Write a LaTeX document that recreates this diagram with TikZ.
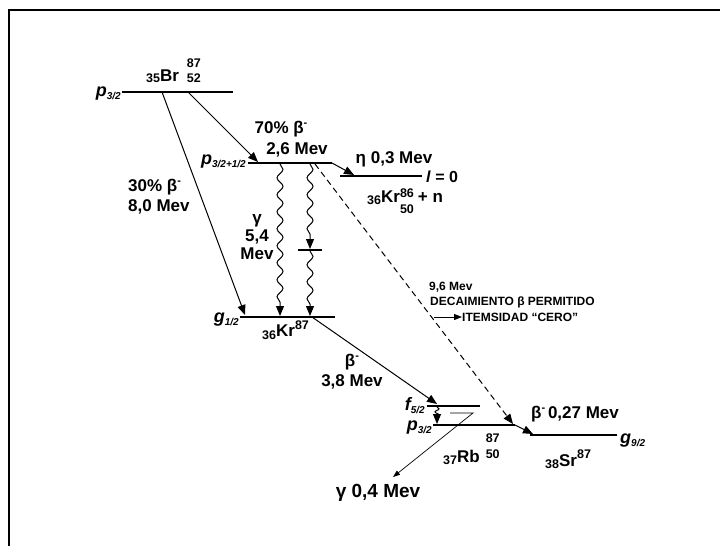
\documentclass[tikz,border=0pt]{standalone}
\usepackage{fontspec}
\setmainfont{Liberation Sans}
\usetikzlibrary{arrows.meta, positioning, decorations.pathmorphing}

\newcommand{\sm}{\fontsize{12.5}{12.5}\selectfont}
\newcommand{\up}[2]{\raisebox{#1}{\sm #2}}
\newcommand{\orb}[2]{\textit{#1}\raisebox{-3pt}{\fontsize{10}{10}\selectfont\itshape #2}}
\newcommand{\bm}{β\raisebox{7pt}{\fontsize{11}{11}\selectfont -}}

\begin{document}
\begin{tikzpicture}[
    x=1pt, y=-1pt,
    every node/.style={font=\fontsize{17}{20}\selectfont\bfseries, inner sep=0pt},
    level/.style={line width=2.4pt},
    decay/.style={line width=1pt, -{Triangle[length=10pt, width=8pt]}},
    gam/.style={decay, decorate,
        decoration={snake, amplitude=3pt, segment length=17pt, post length=10pt}},
    orbit/.style={font=\fontsize{18}{20}\selectfont\bfseries\itshape, anchor=base east},
    small/.style={font=\fontsize{12}{15}\selectfont\bfseries, anchor=west},
]
\useasboundingbox (0,0) rectangle (720,546);

% ---- Frame ----
\draw[line width=2pt] (9,546) -- (9,10) -- (720,10);

% ---- Levels ----
\coordinate (brL) at (122,92);  \coordinate (brR) at (233,92);
\coordinate (exL) at (248,163); \coordinate (exR) at (332,163);
\coordinate (knL) at (340,176); \coordinate (knR) at (422,176);
\coordinate (imL) at (298,250); \coordinate (imR) at (322,250);
\coordinate (krL) at (240,317); \coordinate (krR) at (335,317);
\coordinate (fL)  at (427,406); \coordinate (fR)  at (480,406);
\coordinate (rbL) at (433,425); \coordinate (rbR) at (515,425);
\coordinate (srL) at (530,435); \coordinate (srR) at (617,435);

\draw[level] (brL) -- (brR);
\draw[level] (exL) -- (exR);
\draw[level] (knL) -- (knR);
\draw[level, line width=2pt] (imL) -- (imR);
\draw[level] (krL) -- (krR);
\draw[level] (fL) -- (fR);
\draw[level] (rbL) -- (rbR);
\draw[level] (srL) -- (srR);

% ---- Orbital labels ----
\node[orbit] (pbr) at (121,96)  {\orb{p}{3/2}};
\node[orbit] (pex) at (246,164) {\orb{p}{3/2+1/2}};
\node[orbit] (gkr) at (239,322) {\orb{g}{1/2}};
\node[orbit] (frb) at (425,410) {\orb{f}{5/2}};
\node[orbit] (prb) at (432,430) {\orb{p}{3/2}};
\node[orbit, anchor=base west] (gsr) at (620,443) {\orb{g}{9/2}};
\node[anchor=base west, font=\fontsize{16}{18}\selectfont\bfseries] (lzero) at (426,182) {\textit{l} = 0};

% ---- Nuclides ----
\node[anchor=base west] (br) at (146,81)
    {\up{-1pt}{35}Br\hspace{8pt}\rlap{\up{14pt}{87}}\up{-1pt}{52}};
\node[anchor=base west] (kr86) at (367,202)
    {\up{-2pt}{36}Kr\rlap{\up{5pt}{86}}\up{-11pt}{50}\hspace{4pt}+ n};
\node[anchor=base west] (kr) at (262,336) {\up{-3pt}{36}Kr\up{7pt}{87}};
\node[anchor=base west] (rb) at (443,462)
    {\up{-2pt}{37}Rb\hspace{6pt}\rlap{\up{20pt}{87}}\up{4pt}{50}};
\node[anchor=base west] (sr) at (545,466) {\up{-2pt}{38}Sr\up{8pt}{87}};

% ---- Beta decays ----
\draw[decay] (162,92) -- (245,315);
\draw[decay] (188,92) -- (258,162);
\draw[decay] (exR) -- (354,175);
\draw[decay] (312,317) -- (437,404);
\draw[decay] (rbR) -- (533,434);
\draw[decay, dash pattern=on 6pt off 4pt] (315,164) -- (513,424);

% ---- Gamma transitions ----
\draw[gam] (280,164) -- (280,316);
\draw[gam] (310,164) -- (310,249);
\draw[gam] (310,251) -- (310,316);
\draw[decay, decorate, decoration={snake, amplitude=2pt, segment length=6pt, post length=7pt}]
    (437,407) -- (437,424);
\draw[line width=0.7pt, -{Triangle[length=7pt, width=5pt]}] (450,413) -- (473,413) -- (393,477);

% ---- Transition labels ----
\node (b70) at (281,129) {70\% \bm};
\node (e26) at (297,150) {2,6 Mev};
\node[anchor=north west, align=left] (b30) at (128,179) {30\% \bm\\8,0 Mev};
\node[align=center, font=\fontsize{17}{18}\selectfont\bfseries] (g54) at (257,237) {γ\\5,4\\Mev};
\node (eta) at (394,159) {η 0,3 Mev};
\node[align=center] (b38) at (352,372) {\bm\\3,8 Mev};
\node (b027) at (575,414) {\bm\,0,27 Mev};
\node[font=\fontsize{19}{20}\selectfont\bfseries] (g04) at (378,493) {γ 0,4 Mev};

\node[small] (e96) at (429,287) {9,6 Mev};
\node[small] (perm) at (430,302) {DECAIMIENTO β PERMITIDO};
\coordinate (itA) at (434,317);
\node[small] (inten) at (462,317) {ITEMSIDAD “CERO”};
\draw[decay, -{Triangle[length=8pt, width=6pt]}] (itA) -- (inten.west);

\end{tikzpicture}
\end{document}
